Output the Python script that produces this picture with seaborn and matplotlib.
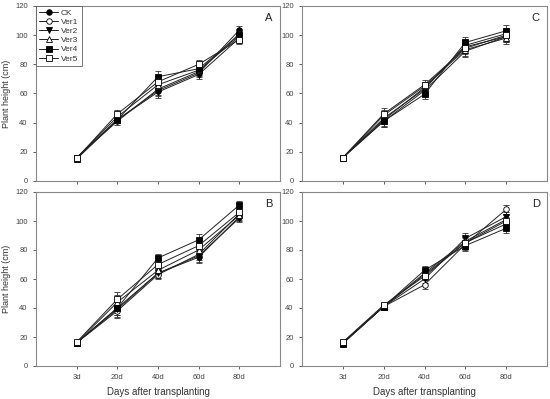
import matplotlib
matplotlib.use("Agg")
import matplotlib.pyplot as plt
import seaborn as sns
import numpy as np

days = ["3d", "20d", "40d", "60d", "80d"]
series = ["CK", "Ver1", "Ver2", "Ver3", "Ver4", "Ver5"]

# Panel A
A_CK   = [16, 42, 62, 74, 103.5]
A_Ver1 = [16, 41, 63, 75, 101]
A_Ver2 = [16, 42, 61, 73, 98]
A_Ver3 = [16, 44, 66, 76, 99]
A_Ver4 = [15, 42, 71.5, 77, 100]
A_Ver5 = [15.5, 46, 68, 80, 97]
A_err  = [1.5, 2.5, 4, 3, 3]

# Panel B
B_CK   = [16, 40, 64, 75, 103]
B_Ver1 = [16, 38, 63, 77, 105]
B_Ver2 = [16, 39, 64, 76, 102]
B_Ver3 = [16, 44, 66, 80, 104]
B_Ver4 = [16, 40, 74.5, 87, 111]
B_Ver5 = [16.5, 46, 70, 83, 106]
B_err  = [1.5, 5, 3, 4, 3]

# Panel C
C_CK   = [16, 43, 63, 93, 101]
C_Ver1 = [16, 42, 64, 92, 99]
C_Ver2 = [16, 41, 62, 89, 99]
C_Ver3 = [16, 45, 65, 90, 98]
C_Ver4 = [16, 41, 59.5, 95, 103]
C_Ver5 = [16, 46, 66, 91, 100]
C_err  = [1.5, 4, 3, 4, 4]

# Panel D
D_CK   = [15.5, 41, 63, 85, 98]
D_Ver1 = [16, 41, 56, 84, 108]
D_Ver2 = [16, 41, 60, 88, 103]
D_Ver3 = [16, 41, 64, 86, 101]
D_Ver4 = [15.5, 41, 66, 83, 95]
D_Ver5 = [16.5, 42, 62, 85, 100]
D_err  = [1, 1.5, 3, 4, 3]

panels = {
    "A": ([A_CK, A_Ver1, A_Ver2, A_Ver3, A_Ver4, A_Ver5], A_err),
    "B": ([B_CK, B_Ver1, B_Ver2, B_Ver3, B_Ver4, B_Ver5], B_err),
    "C": ([C_CK, C_Ver1, C_Ver2, C_Ver3, C_Ver4, C_Ver5], C_err),
    "D": ([D_CK, D_Ver1, D_Ver2, D_Ver3, D_Ver4, D_Ver5], D_err),
}

sns.set_style("white")
plt.rcParams['font.family'] = ['Liberation Sans', 'DejaVu Sans']

markers = ["o", "o", "v", "^", "s", "s"]
faces = ["black", "white", "black", "white", "black", "white"]

fig = plt.figure(figsize=(5.5, 3.99), dpi=100)
W, H = 550, 399
boxes = {
    "A": (36, 6, 280, 181),
    "C": (302, 6, 547, 181),
    "B": (36, 192, 280, 366),
    "D": (302, 192, 547, 366),
}
x = np.arange(1, 6)
for name, (x0, y0, x1, y1) in boxes.items():
    ax = fig.add_axes([x0 / W, 1 - y1 / H, (x1 - x0) / W, (y1 - y0) / H])
    vals, err = panels[name]
    for s, v, m, fc in zip(series, vals, markers, faces):
        ax.errorbar(x, v, yerr=err, fmt="none", ecolor="#333333", elinewidth=0.6,
                    capsize=2, capthick=0.6, zorder=2)
        sns.lineplot(x=x, y=v, ax=ax, color="#222222", linewidth=0.7,
                     marker=m, markersize=4, markerfacecolor=fc,
                     markeredgecolor="black", markeredgewidth=0.6, label=s,
                     legend=False, zorder=3)
    ax.set_xlim(0, 6)
    ax.set_ylim(0, 120)
    ax.set_yticks(range(0, 121, 20))
    ax.set_xticks(x)
    for sp in ax.spines.values():
        sp.set_color("#888888")
        sp.set_linewidth(0.8)
    ax.tick_params(axis="both", labelsize=5.5, colors="#444444", length=2.5,
                   width=0.6, direction="out", left=True, bottom=True)
    if name in ("B", "D"):
        ax.set_xticklabels(days)
        ax.set_xlabel("Days after transplanting", fontsize=7, color="#333333", labelpad=4)
    else:
        ax.set_xticklabels([])
        ax.set_xlabel("")
    if name in ("A", "B"):
        ax.set_ylabel("Plant height (cm)", fontsize=6.5, color="#333333", labelpad=3)
    else:
        ax.set_ylabel("")
    ax.text(0.97, 0.93, name, transform=ax.transAxes, ha="right", va="center",
            fontsize=8, color="#222222")
    if name == "A":
        leg = ax.legend(loc="upper left", fontsize=6, frameon=True, fancybox=False,
                        edgecolor="#555555", borderpad=0.4, labelspacing=0.15,
                        handlelength=2.2, handletextpad=0.4,
                        borderaxespad=0.0, bbox_to_anchor=(0.0, 1.0))
        leg.get_frame().set_linewidth(0.7)
        for t in leg.get_texts():
            t.set_color("#333333")

fig.savefig("out.png", dpi=100)
